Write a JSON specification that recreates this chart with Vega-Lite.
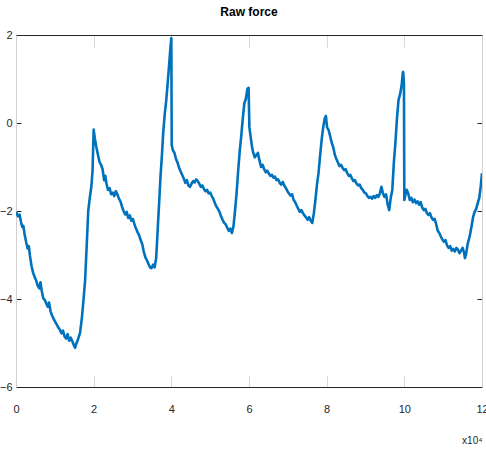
{
  "$schema": "https://vega.github.io/schema/vega-lite/v6.json",
  "width": 466,
  "height": 352,
  "autosize": "none",
  "padding": {"left": 16, "top": 35, "right": 4, "bottom": 74},
  "title": {"text": "Raw force", "font": "Liberation Sans", "fontSize": 12, "fontWeight": "bold", "color": "#000000", "anchor": "middle", "offset": 10},
  "config": {"view": {"stroke": null}, "font": "Liberation Sans"},
  "data": {"values": [
    {"sample": 0, "force": -2.02}, {"sample": 500, "force": -2.12}, {"sample": 900, "force": -2.08}, {"sample": 1300, "force": -2.25}, {"sample": 1600, "force": -2.36}, {"sample": 1900, "force": -2.34}, {"sample": 2200, "force": -2.52}, {"sample": 2600, "force": -2.70}, {"sample": 3000, "force": -2.85}, {"sample": 3300, "force": -2.80}, {"sample": 3600, "force": -3.02}, {"sample": 4000, "force": -3.25}, {"sample": 4400, "force": -3.40}, {"sample": 4800, "force": -3.50}, {"sample": 5200, "force": -3.58}, {"sample": 5600, "force": -3.70}, {"sample": 6000, "force": -3.76}, {"sample": 6300, "force": -3.62}, {"sample": 6600, "force": -3.80}, {"sample": 7000, "force": -3.98}, {"sample": 7400, "force": -4.02}, {"sample": 7800, "force": -4.10}, {"sample": 8200, "force": -4.18}, {"sample": 8500, "force": -4.08}, {"sample": 8900, "force": -4.28}, {"sample": 9300, "force": -4.38}, {"sample": 9700, "force": -4.45}, {"sample": 10100, "force": -4.52}, {"sample": 10500, "force": -4.58}, {"sample": 10900, "force": -4.65}, {"sample": 11300, "force": -4.70}, {"sample": 11700, "force": -4.78}, {"sample": 12100, "force": -4.72}, {"sample": 12500, "force": -4.85}, {"sample": 12900, "force": -4.90}, {"sample": 13300, "force": -4.80}, {"sample": 13700, "force": -4.95}, {"sample": 14100, "force": -4.88}, {"sample": 14500, "force": -4.96}, {"sample": 14900, "force": -5.05}, {"sample": 15200, "force": -5.11}, {"sample": 15500, "force": -5.02}, {"sample": 15800, "force": -4.96}, {"sample": 16200, "force": -4.85}, {"sample": 16500, "force": -4.77}, {"sample": 17000, "force": -4.40}, {"sample": 17400, "force": -4.00}, {"sample": 17800, "force": -3.57}, {"sample": 18200, "force": -2.80}, {"sample": 18600, "force": -2.00}, {"sample": 19000, "force": -1.70}, {"sample": 19400, "force": -1.45}, {"sample": 19700, "force": -1.10}, {"sample": 20000, "force": -0.15},
    {"sample": 20300, "force": -0.35}, {"sample": 20700, "force": -0.55}, {"sample": 21100, "force": -0.72}, {"sample": 21500, "force": -0.88}, {"sample": 21900, "force": -0.95}, {"sample": 22300, "force": -1.05}, {"sample": 22700, "force": -1.30}, {"sample": 23000, "force": -1.20}, {"sample": 23300, "force": -1.38}, {"sample": 23700, "force": -1.52}, {"sample": 24100, "force": -1.48}, {"sample": 24500, "force": -1.62}, {"sample": 24900, "force": -1.58}, {"sample": 25300, "force": -1.66}, {"sample": 25700, "force": -1.55}, {"sample": 26100, "force": -1.62}, {"sample": 26500, "force": -1.72}, {"sample": 26900, "force": -1.78}, {"sample": 27300, "force": -1.90}, {"sample": 27700, "force": -2.00}, {"sample": 28100, "force": -2.08}, {"sample": 28500, "force": -2.02}, {"sample": 28900, "force": -2.16}, {"sample": 29300, "force": -2.10}, {"sample": 29700, "force": -2.22}, {"sample": 30100, "force": -2.18}, {"sample": 30500, "force": -2.30}, {"sample": 30900, "force": -2.40}, {"sample": 31300, "force": -2.48}, {"sample": 31700, "force": -2.55}, {"sample": 32100, "force": -2.66}, {"sample": 32500, "force": -2.75}, {"sample": 32900, "force": -2.92}, {"sample": 33300, "force": -3.05}, {"sample": 33700, "force": -3.12}, {"sample": 34100, "force": -3.20}, {"sample": 34500, "force": -3.28}, {"sample": 34900, "force": -3.30}, {"sample": 35300, "force": -3.22}, {"sample": 35700, "force": -3.28}, {"sample": 36100, "force": -3.07}, {"sample": 36500, "force": -2.40}, {"sample": 36900, "force": -1.75}, {"sample": 37200, "force": -1.23}, {"sample": 37600, "force": -0.70}, {"sample": 37900, "force": -0.23}, {"sample": 38300, "force": 0.20}, {"sample": 38700, "force": 0.52}, {"sample": 39100, "force": 0.95}, {"sample": 39500, "force": 1.40}, {"sample": 39800, "force": 1.75}, {"sample": 40000, "force": 1.93},
    {"sample": 40100, "force": -0.50}, {"sample": 40400, "force": -0.62}, {"sample": 40800, "force": -0.68}, {"sample": 41200, "force": -0.82}, {"sample": 41600, "force": -0.90}, {"sample": 42000, "force": -1.02}, {"sample": 42400, "force": -1.10}, {"sample": 42800, "force": -1.18}, {"sample": 43200, "force": -1.26}, {"sample": 43600, "force": -1.36}, {"sample": 44000, "force": -1.30}, {"sample": 44400, "force": -1.42}, {"sample": 44800, "force": -1.45}, {"sample": 45200, "force": -1.38}, {"sample": 45600, "force": -1.32}, {"sample": 46000, "force": -1.35}, {"sample": 46400, "force": -1.28}, {"sample": 46800, "force": -1.32}, {"sample": 47200, "force": -1.38}, {"sample": 47600, "force": -1.45}, {"sample": 48000, "force": -1.42}, {"sample": 48400, "force": -1.50}, {"sample": 48800, "force": -1.55}, {"sample": 49200, "force": -1.52}, {"sample": 49600, "force": -1.60}, {"sample": 50000, "force": -1.58}, {"sample": 50400, "force": -1.66}, {"sample": 50800, "force": -1.72}, {"sample": 51200, "force": -1.82}, {"sample": 51600, "force": -1.90}, {"sample": 52000, "force": -1.95}, {"sample": 52400, "force": -2.02}, {"sample": 52800, "force": -2.12}, {"sample": 53200, "force": -2.20}, {"sample": 53600, "force": -2.27}, {"sample": 54000, "force": -2.30}, {"sample": 54400, "force": -2.38}, {"sample": 54800, "force": -2.45}, {"sample": 55200, "force": -2.40}, {"sample": 55600, "force": -2.50}, {"sample": 56000, "force": -2.35}, {"sample": 56400, "force": -2.00}, {"sample": 56800, "force": -1.60}, {"sample": 57200, "force": -1.10}, {"sample": 57600, "force": -0.65}, {"sample": 58000, "force": -0.30}, {"sample": 58400, "force": 0.10}, {"sample": 58800, "force": 0.45}, {"sample": 59200, "force": 0.55}, {"sample": 59600, "force": 0.78}, {"sample": 59900, "force": 0.80},
    {"sample": 60100, "force": -0.10}, {"sample": 60400, "force": -0.30}, {"sample": 60800, "force": -0.55}, {"sample": 61100, "force": -0.68}, {"sample": 61500, "force": -0.78}, {"sample": 61900, "force": -0.73}, {"sample": 62300, "force": -0.68}, {"sample": 62700, "force": -0.85}, {"sample": 63100, "force": -1.00}, {"sample": 63500, "force": -0.95}, {"sample": 63900, "force": -1.05}, {"sample": 64300, "force": -1.12}, {"sample": 64700, "force": -1.08}, {"sample": 65100, "force": -1.15}, {"sample": 65500, "force": -1.20}, {"sample": 65900, "force": -1.18}, {"sample": 66300, "force": -1.24}, {"sample": 66700, "force": -1.22}, {"sample": 67100, "force": -1.30}, {"sample": 67500, "force": -1.28}, {"sample": 67900, "force": -1.36}, {"sample": 68300, "force": -1.40}, {"sample": 68700, "force": -1.34}, {"sample": 69100, "force": -1.42}, {"sample": 69500, "force": -1.48}, {"sample": 69900, "force": -1.55}, {"sample": 70300, "force": -1.60}, {"sample": 70700, "force": -1.65}, {"sample": 71100, "force": -1.62}, {"sample": 71500, "force": -1.75}, {"sample": 71900, "force": -1.80}, {"sample": 72300, "force": -1.88}, {"sample": 72700, "force": -1.95}, {"sample": 73100, "force": -2.02}, {"sample": 73500, "force": -1.98}, {"sample": 73900, "force": -2.05}, {"sample": 74300, "force": -2.10}, {"sample": 74700, "force": -2.15}, {"sample": 75100, "force": -2.20}, {"sample": 75500, "force": -2.14}, {"sample": 75900, "force": -2.22}, {"sample": 76300, "force": -2.27}, {"sample": 76700, "force": -2.05}, {"sample": 77100, "force": -1.75}, {"sample": 77500, "force": -1.40}, {"sample": 77900, "force": -1.14}, {"sample": 78300, "force": -0.75}, {"sample": 78700, "force": -0.39}, {"sample": 79100, "force": -0.10}, {"sample": 79500, "force": 0.10}, {"sample": 79800, "force": 0.16},
    {"sample": 80100, "force": -0.10}, {"sample": 80500, "force": -0.16}, {"sample": 80900, "force": -0.30}, {"sample": 81300, "force": -0.45}, {"sample": 81700, "force": -0.55}, {"sample": 82100, "force": -0.72}, {"sample": 82500, "force": -0.82}, {"sample": 82900, "force": -0.90}, {"sample": 83300, "force": -0.98}, {"sample": 83700, "force": -0.95}, {"sample": 84100, "force": -1.02}, {"sample": 84500, "force": -1.07}, {"sample": 84900, "force": -1.05}, {"sample": 85300, "force": -1.14}, {"sample": 85700, "force": -1.20}, {"sample": 86100, "force": -1.18}, {"sample": 86500, "force": -1.26}, {"sample": 86900, "force": -1.32}, {"sample": 87300, "force": -1.30}, {"sample": 87700, "force": -1.38}, {"sample": 88100, "force": -1.42}, {"sample": 88500, "force": -1.40}, {"sample": 88900, "force": -1.48}, {"sample": 89300, "force": -1.52}, {"sample": 89700, "force": -1.58}, {"sample": 90100, "force": -1.60}, {"sample": 90500, "force": -1.66}, {"sample": 90900, "force": -1.70}, {"sample": 91300, "force": -1.68}, {"sample": 91700, "force": -1.72}, {"sample": 92100, "force": -1.66}, {"sample": 92500, "force": -1.70}, {"sample": 92900, "force": -1.64}, {"sample": 93300, "force": -1.68}, {"sample": 93700, "force": -1.60}, {"sample": 94100, "force": -1.45}, {"sample": 94500, "force": -1.60}, {"sample": 94900, "force": -1.68}, {"sample": 95300, "force": -1.62}, {"sample": 95700, "force": -1.85}, {"sample": 96100, "force": -1.98}, {"sample": 96500, "force": -1.70}, {"sample": 96900, "force": -1.52}, {"sample": 97300, "force": -0.90}, {"sample": 97700, "force": -0.45}, {"sample": 98100, "force": 0.10}, {"sample": 98500, "force": 0.52}, {"sample": 98900, "force": 0.65}, {"sample": 99300, "force": 0.85}, {"sample": 99600, "force": 1.14}, {"sample": 99700, "force": 1.16}, {"sample": 99900, "force": 0.90},
    {"sample": 100000, "force": -1.75}, {"sample": 100300, "force": -1.62}, {"sample": 100600, "force": -1.52}, {"sample": 101000, "force": -1.60}, {"sample": 101400, "force": -1.75}, {"sample": 101800, "force": -1.70}, {"sample": 102200, "force": -1.80}, {"sample": 102600, "force": -1.74}, {"sample": 103000, "force": -1.82}, {"sample": 103400, "force": -1.78}, {"sample": 103800, "force": -1.86}, {"sample": 104200, "force": -1.80}, {"sample": 104600, "force": -1.92}, {"sample": 105000, "force": -1.98}, {"sample": 105400, "force": -1.95}, {"sample": 105800, "force": -2.05}, {"sample": 106200, "force": -2.09}, {"sample": 106600, "force": -2.05}, {"sample": 107000, "force": -2.15}, {"sample": 107400, "force": -2.20}, {"sample": 107800, "force": -2.18}, {"sample": 108200, "force": -2.30}, {"sample": 108600, "force": -2.45}, {"sample": 109000, "force": -2.50}, {"sample": 109400, "force": -2.58}, {"sample": 109800, "force": -2.65}, {"sample": 110200, "force": -2.70}, {"sample": 110600, "force": -2.66}, {"sample": 111000, "force": -2.78}, {"sample": 111400, "force": -2.84}, {"sample": 111800, "force": -2.80}, {"sample": 112200, "force": -2.90}, {"sample": 112600, "force": -2.86}, {"sample": 113000, "force": -2.92}, {"sample": 113400, "force": -2.84}, {"sample": 113800, "force": -2.88}, {"sample": 114200, "force": -2.96}, {"sample": 114600, "force": -2.90}, {"sample": 115000, "force": -2.84}, {"sample": 115400, "force": -2.95}, {"sample": 115600, "force": -3.07}, {"sample": 115900, "force": -2.98}, {"sample": 116300, "force": -2.75}, {"sample": 116800, "force": -2.59}, {"sample": 117300, "force": -2.35}, {"sample": 117700, "force": -2.14}, {"sample": 118100, "force": -2.02}, {"sample": 118500, "force": -1.95}, {"sample": 118900, "force": -1.82}, {"sample": 119300, "force": -1.70}, {"sample": 119700, "force": -1.42}, {"sample": 120000, "force": -1.14}
  ]},
  "layer": [
    {
      "mark": {"type": "line", "color": "#0072BD", "strokeWidth": 2.6, "strokeJoin": "round", "clip": true},
      "encoding": {
        "x": {"field": "sample", "type": "quantitative", "scale": {"domain": [0, 120000], "nice": false, "zero": false},
          "axis": {"orient": "bottom", "values": [0, 20000, 40000, 60000, 80000, 100000, 120000], "labelExpr": "format(datum.value / 10000, 'd')", "grid": false,
            "domainColor": "#262626", "domainWidth": 1, "tickColor": "#d9d9d9", "tickSize": -12, "tickWidth": 1,
            "labelPadding": 28, "labelFontSize": 11, "labelColor": "#262626", "labelFlush": false,
            "title": "x10⁴", "titleAnchor": "end", "titleAlign": "right", "titleFontSize": 10, "titleFontWeight": "normal", "titleColor": "#262626", "titlePadding": 21}},
        "y": {"field": "force", "type": "quantitative", "scale": {"domain": [-6, 2], "nice": false, "zero": false},
          "axis": {"orient": "left", "values": [-6, -4, -2, 0, 2], "grid": false, "title": null,
            "domainColor": "#d0d0d0", "domainWidth": 1, "tickColor": "#262626", "tickSize": -5, "tickWidth": 1,
            "labelPadding": 9, "labelFontSize": 11, "labelColor": "#262626", "labelFlush": false}}
      }
    },
    {
      "mark": {"type": "line", "opacity": 0},
      "encoding": {
        "x": {"field": "sample", "type": "quantitative",
          "axis": {"orient": "top", "values": [0, 20000, 40000, 60000, 80000, 100000, 120000], "labels": false, "grid": false, "title": null,
            "domainColor": "#262626", "domainWidth": 1, "tickColor": "#d9d9d9", "tickSize": -12, "tickWidth": 1}},
        "y": {"field": "force", "type": "quantitative",
          "axis": {"orient": "right", "values": [-6, -4, -2, 0, 2], "labels": false, "grid": false, "title": null,
            "domainColor": "#d0d0d0", "domainWidth": 1, "tickColor": "#262626", "tickSize": -5, "tickWidth": 1}}
      }
    }
  ],
  "resolve": {"axis": {"x": "independent", "y": "independent"}}
}
